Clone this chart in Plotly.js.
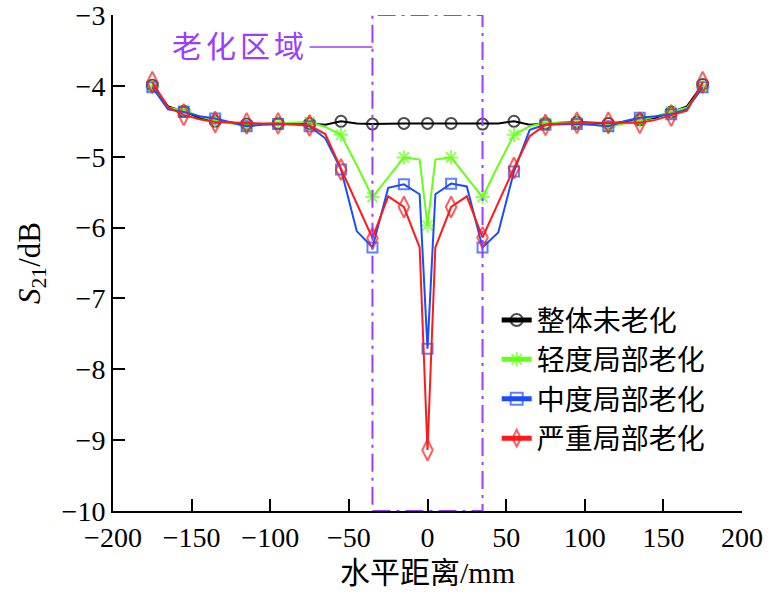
<!DOCTYPE html>
<html>
<head>
<meta charset="utf-8">
<script src="https://cdn.plot.ly/plotly-3.0.1.min.js"></script>
<style>
html,body{margin:0;padding:0;background:#fff;}
#chart{width:784px;height:594px;}
#chart .annotation-text{letter-spacing:4px;}
</style>
</head>
<body>
<div id="chart"></div>
<script>
// Horizontal distance (mm) of the sampled curve points
const distance = [-175,-165,-155,-145,-135,-125,-115,-105,-95,-85,-75,-65,-55,-45,-35,-25,-15,-5,0,5,15,25,35,45,55,65,75,85,95,105,115,125,135,145,155,165,175];
// Distances where markers are drawn
const markerDistance = [-175,-155,-135,-115,-95,-75,-55,-35,-15,0,15,35,55,75,95,115,135,155,175];

const seriesNames = ['整体未老化','轻度局部老化','中度局部老化','严重局部老化'];

const noAging = [-3.99,-4.29,-4.36,-4.45,-4.50,-4.52,-4.54,-4.54,-4.53,-4.53,-4.53,-4.55,-4.50,-4.53,-4.54,-4.53,-4.53,-4.53,-4.53,-4.53,-4.53,-4.53,-4.54,-4.53,-4.50,-4.55,-4.53,-4.52,-4.51,-4.52,-4.53,-4.51,-4.48,-4.45,-4.37,-4.29,-3.98];
const mildAging = [-4.02,-4.31,-4.34,-4.43,-4.49,-4.53,-4.57,-4.54,-4.53,-4.52,-4.51,-4.58,-4.69,-5.12,-5.57,-5.29,-5.01,-5.04,-5.97,-5.04,-5.01,-5.29,-5.57,-5.12,-4.69,-4.57,-4.52,-4.52,-4.52,-4.55,-4.58,-4.53,-4.49,-4.43,-4.36,-4.31,-4.02];
const moderateAging = [-4.02,-4.33,-4.37,-4.43,-4.46,-4.52,-4.57,-4.55,-4.54,-4.54,-4.57,-4.74,-5.18,-6.05,-6.28,-5.44,-5.39,-5.53,-7.71,-5.53,-5.38,-5.42,-6.28,-6.07,-5.21,-4.62,-4.55,-4.54,-4.54,-4.55,-4.57,-4.50,-4.45,-4.43,-4.40,-4.33,-4.02];
const severeAging = [-3.95,-4.30,-4.41,-4.47,-4.51,-4.52,-4.53,-4.53,-4.53,-4.54,-4.56,-4.68,-5.18,-5.66,-6.15,-5.56,-5.71,-6.28,-9.14,-6.28,-5.71,-5.56,-6.14,-5.65,-5.16,-4.71,-4.55,-4.53,-4.52,-4.52,-4.52,-4.52,-4.52,-4.48,-4.42,-4.35,-3.95];

const xTicks = [-200,-150,-100,-50,0,50,100,150,200];
const yTicks = [-10,-9,-8,-7,-6,-5,-4,-3];
const agingRegion = [-35, 35];
const regionLabel = '老化区域';

const colors = ['#000000','#66ff1a','#1a4dff','#ff1a1a'];
const symbols = ['circle-open','asterisk-open','square-open','diamond-tall-open'];
const msizes = [11,12,10,15];
const allY = [noAging, mildAging, moderateAging, severeAging];

const traces = allY.map((ys, i) => ({
  type: 'scatter',
  mode: 'lines+markers',
  name: seriesNames[i],
  x: distance,
  y: ys,
  line: {color: colors[i], width: 2},
  marker: {
    symbol: symbols[i],
    color: colors[i],
    size: distance.map(d => markerDistance.includes(d) ? msizes[i] : 0),
    line: {color: colors[i], width: 2}
  }
}));

const font = 'Liberation Serif, Noto Sans CJK SC, serif';
const purple = '#9b3dff';
const minus = v => v < 0 ? '\u2212' + Math.abs(v) : String(v);

const layout = {
  width: 784, height: 594,
  margin: {l: 113, r: 42, t: 15, b: 83},
  paper_bgcolor: '#fff', plot_bgcolor: '#fff',
  showlegend: true,
  legend: {
    x: 0.61, y: 0.435, xanchor: 'left', yanchor: 'top',
    font: {family: font, size: 28, color: '#000'},
    bgcolor: 'rgba(0,0,0,0)', itemsizing: 'constant',
    tracegroupgap: 0
  },
  xaxis: {
    range: [-200, 200], tickvals: xTicks, ticktext: xTicks.map(minus),
    showgrid: false, zeroline: false,
    showline: true, linecolor: '#000', linewidth: 2, mirror: false,
    ticks: 'inside', ticklen: 12, tickwidth: 2, tickcolor: '#000',
    ticklabeloverflow: 'allow',
    tickfont: {family: font, size: 28, color: '#000'},
    title: {text: '水平距离/mm', font: {family: font, size: 30, color: '#000'}, standoff: 10}
  },
  yaxis: {
    range: [-10, -3], tickvals: yTicks, ticktext: yTicks.map(minus),
    showgrid: false, zeroline: false,
    showline: true, linecolor: '#000', linewidth: 2, mirror: false,
    ticks: 'inside', ticklen: 12, tickwidth: 2, tickcolor: '#000',
    ticklabeloverflow: 'allow',
    tickfont: {family: font, size: 28, color: '#000'},
    title: {text: '<i>S</i><sub>21</sub>/dB', font: {family: font, size: 31, color: '#000'}, standoff: 12}
  },
  shapes: [
    {type: 'rect', xref: 'x', yref: 'y', x0: agingRegion[0], x1: agingRegion[1], y0: -10, y1: -3,
     line: {color: purple, width: 2, dash: '18px,6px,3px,6px'}, fillcolor: 'rgba(0,0,0,0)', layer: 'above'},
    {type: 'line', xref: 'x', yref: 'y', x0: -75, x1: agingRegion[0], y0: -3.45, y1: -3.45,
     line: {color: purple, width: 1.5}}
  ],
  annotations: [
    {xref: 'x', yref: 'y', x: -80, y: -3.45, xanchor: 'right', yanchor: 'middle',
     text: regionLabel, showarrow: false, font: {family: font, size: 30, color: purple}}
  ]
};

Plotly.newPlot('chart', traces, layout, {displayModeBar: false, staticPlot: true});
</script>
</body>
</html>
